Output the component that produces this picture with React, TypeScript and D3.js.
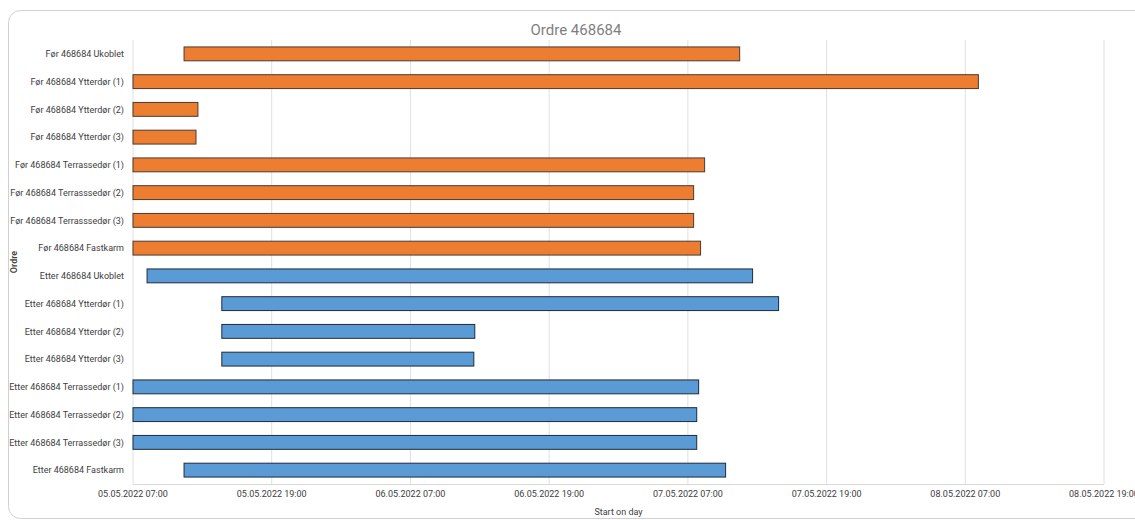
import React from "react";
import * as d3 from "d3";

const categories: string[] = [
  "Før 468684 Ukoblet",
  "Før 468684 Ytterdør (1)",
  "Før 468684 Ytterdør (2)",
  "Før 468684 Ytterdør (3)",
  "Før 468684 Terrassedør (1)",
  "Før 468684 Terrasssedør (2)",
  "Før 468684 Terrasssedør (3)",
  "Før 468684 Fastkarm",
  "Etter 468684 Ukoblet",
  "Etter 468684 Ytterdør (1)",
  "Etter 468684 Ytterdør (2)",
  "Etter 468684 Ytterdør (3)",
  "Etter 468684 Terrassedør (1)",
  "Etter 468684 Terrassedør (2)",
  "Etter 468684 Terrassedør (3)",
  "Etter 468684 Fastkarm",
];

const starts: string[] = [
  "2022-05-05T11:25", "2022-05-05T07:00", "2022-05-05T07:00", "2022-05-05T07:00",
  "2022-05-05T07:00", "2022-05-05T07:00", "2022-05-05T07:00", "2022-05-05T07:00",
  "2022-05-05T08:13", "2022-05-05T14:41", "2022-05-05T14:41", "2022-05-05T14:41",
  "2022-05-05T07:00", "2022-05-05T07:00", "2022-05-05T07:00", "2022-05-05T11:25",
];

const ends: string[] = [
  "2022-05-07T11:29", "2022-05-08T08:08", "2022-05-05T12:37", "2022-05-05T12:27",
  "2022-05-07T08:27", "2022-05-07T07:30", "2022-05-07T07:30", "2022-05-07T08:06",
  "2022-05-07T12:36", "2022-05-07T14:51", "2022-05-06T12:34", "2022-05-06T12:29",
  "2022-05-07T07:56", "2022-05-07T07:46", "2022-05-07T07:46", "2022-05-07T10:16",
];

const groups: string[] = [
  "Før", "Før", "Før", "Før", "Før", "Før", "Før", "Før",
  "Etter", "Etter", "Etter", "Etter", "Etter", "Etter", "Etter", "Etter",
];

const tickLabels: string[] = [
  "2022-05-05T07:00", "2022-05-05T19:00", "2022-05-06T07:00", "2022-05-06T19:00",
  "2022-05-07T07:00", "2022-05-07T19:00", "2022-05-08T07:00", "2022-05-08T19:00",
];

const title = "Ordre 468684";
const xTitle = "Start on day";
const yTitle = "Ordre";

const parse = (s: string) => new Date(s);
const fmt = d3.timeFormat("%d.%m.%Y %H:%M");

export default function App() {
  const W = 1135, H = 520;
  const left = 133, right = 1104, top = 40, bottom = 484;
  const ticks = tickLabels.map(parse);
  const x = d3.scaleTime().domain([ticks[0], ticks[ticks.length - 1]]).range([left, right]);
  const y = d3.scaleBand<string>().domain(categories).range([top, bottom]).paddingInner(0.5).paddingOuter(0.25);
  const font = "Roboto, 'Liberation Sans', sans-serif";
  const colors: Record<string, string> = { "Før": "#ED7D31", "Etter": "#5B9BD5" };
  const strokes: Record<string, string> = { "Før": "#4a3a30", "Etter": "#1f2a3a" };

  return (
    <svg width={W} height={H} style={{ position: "absolute", left: 0, top: 0, background: "#fff" }}>
      <rect x={8.5} y={10.5} width={1140} height={508} rx={12} fill="#fff" stroke="#d0d0d0" />
      <text x={576} y={35} textAnchor="middle" fontFamily={font} fontSize={15} fill="#7f7f7f">{title}</text>
      {ticks.map((t, i) => (
        <line key={"g" + i} x1={x(t)} x2={x(t)} y1={top} y2={bottom} stroke="#e0e0e0" strokeWidth={1} />
      ))}
      <line x1={left} x2={right} y1={bottom + 0.5} y2={bottom + 0.5} stroke="#d9d9d9" />
      {categories.map((c, i) => {
        const x0 = x(parse(starts[i]));
        const x1 = x(parse(ends[i]));
        return (
          <rect key={"b" + i} x={x0} y={y(c)!} width={x1 - x0} height={y.bandwidth()}
            fill={colors[groups[i]]} stroke={strokes[groups[i]]} strokeWidth={1} />
        );
      })}
      {categories.map((c, i) => (
        <text key={"l" + i} x={left - 9} y={y(c)! + y.bandwidth() / 2} dy="0.35em" textAnchor="end"
          fontFamily={font} fontSize={9} fill="#404040">{c}</text>
      ))}
      {ticks.map((t, i) => (
        <text key={"t" + i} x={x(t)} y={497} textAnchor="middle" fontFamily={font} fontSize={9} fill="#404040">{fmt(t)}</text>
      ))}
      <text x={(left + right) / 2} y={515} textAnchor="middle" fontFamily={font} fontSize={9} fill="#404040">{xTitle}</text>
      <text transform={`translate(17, ${(top + bottom) / 2}) rotate(-90)`} textAnchor="middle" fontFamily={font} fontSize={9} fontWeight={600} fill="#404040">{yTitle}</text>
    </svg>
  );
}
